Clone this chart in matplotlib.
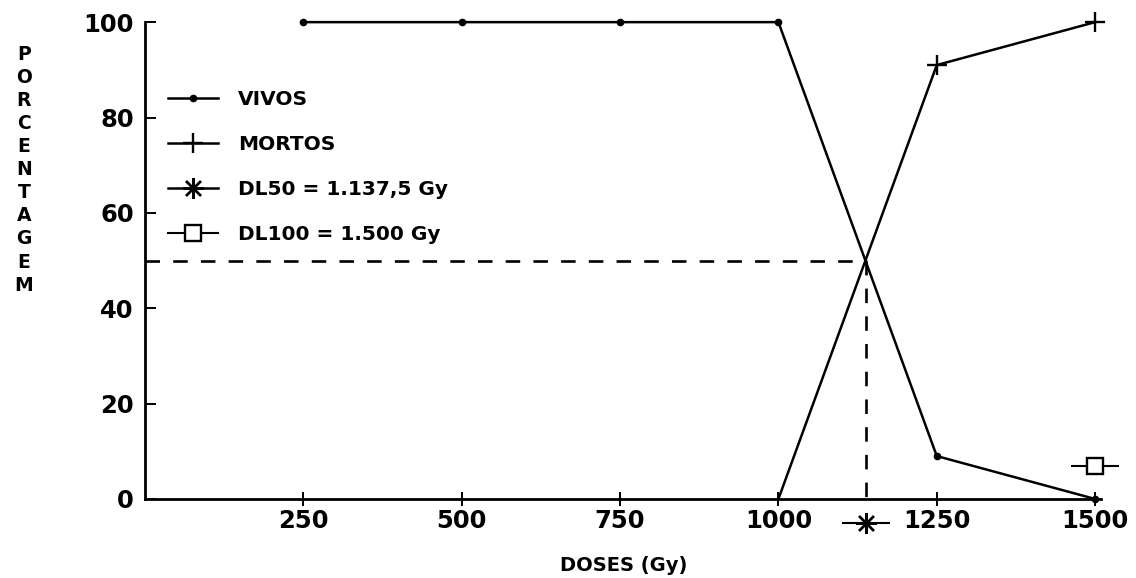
import matplotlib
matplotlib.use("Agg")
import matplotlib.pyplot as plt
from matplotlib.lines import Line2D

plt.rcParams["font.family"] = ["DejaVu Sans"]
plt.rcParams["font.weight"] = "bold"

# survival data by dose
doses = [250, 500, 750, 1000, 1250, 1500]
vivos = [100, 100, 100, 100, 9, 0]
doses_mortos = [1000, 1250, 1500]
mortos = [0, 91, 100]

dl50 = 1137.5
dl50_y = -5
dl100 = 1500
dl100_y = 7

x_ticks = [250, 500, 750, 1000, 1250, 1500]
y_ticks = [0, 20, 40, 60, 80, 100]

fig = plt.figure(figsize=(11.36, 5.78), dpi=100)
ax = fig.add_axes([0.1276, 0.1367, 0.842, 0.825])

ax.plot(doses, vivos, color="black", lw=1.8, marker="o", ms=4.5, clip_on=False)
ax.plot(doses_mortos, mortos, color="black", lw=1.8, marker="+", ms=15, mew=1.7,
        markevery=[1, 2], clip_on=False)

# DL50 / DL100 reference marks
ax.plot([0, dl50, dl50], [50, 50, 0], color="black", lw=1.9,
        linestyle=(0, (5.5, 5)))
ax.plot([dl50], [dl50_y], color="black", marker="_", ms=34, mew=1.5, clip_on=False)
ax.plot([dl50], [dl50_y], color="black", marker=(8, 2, 0), ms=15, mew=1.7, clip_on=False)
ax.plot([dl100], [dl100_y], color="black", marker="_", ms=34, mew=1.5, clip_on=False)
ax.plot([dl100], [dl100_y], color="black", marker="s", ms=12, mew=1.7,
        mfc="white", clip_on=False)

ax.set_xlim(0, 1510)
ax.set_ylim(0, 100)
ax.set_xticks(x_ticks)
ax.set_yticks(y_ticks)
ax.tick_params(axis="x", direction="inout", length=10, width=1.4, labelsize=17.5, pad=2)
ax.tick_params(axis="y", direction="in", length=8, width=1.4, labelsize=17.5, pad=8)
for lab in ax.get_xticklabels() + ax.get_yticklabels():
    lab.set_fontweight("bold")
for s in ["top", "right"]:
    ax.spines[s].set_visible(False)
for s in ["left", "bottom"]:
    ax.spines[s].set_linewidth(2)

ax.set_xlabel("DOSES (Gy)", fontsize=14, fontweight="bold", labelpad=17)
fig.text(0.021, 0.922, "\n".join("PORCENTAGEM"), fontsize=13.5, fontweight="bold",
         ha="center", va="top", linespacing=1.27)

handles = [
    Line2D([], [], color="black", lw=1.8, marker="o", ms=4.5),
    Line2D([], [], color="black", lw=1.8, marker="+", ms=15, mew=1.7),
    Line2D([], [], color="black", lw=1.8, marker=(8, 2, 0), ms=15, mew=1.7),
    Line2D([], [], color="black", lw=1.5, marker="s", ms=12, mew=1.7, mfc="white"),
]
labels = ["VIVOS", "MORTOS", "DL50 = 1.137,5 Gy", "DL100 = 1.500 Gy"]
ax.legend(handles, labels, loc="upper left", bbox_to_anchor=(0.005, 0.895),
          frameon=False, handlelength=2.5, handletextpad=1.0, labelspacing=1.29,
          prop={"size": 14.5, "weight": "bold"})

fig.savefig("out.png", dpi=100)
